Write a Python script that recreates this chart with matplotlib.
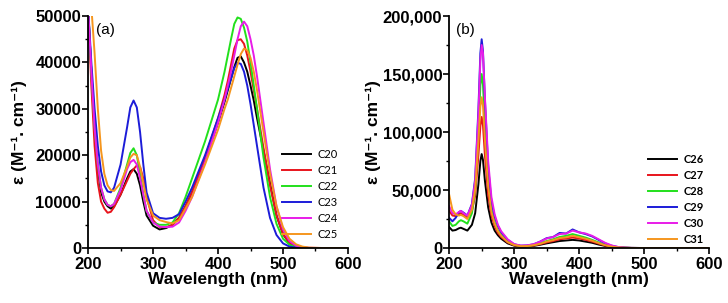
import matplotlib
matplotlib.use('Agg')
import matplotlib.pyplot as plt
from matplotlib.ticker import MultipleLocator, FuncFormatter

# ---- panel (a) data: wavelength (nm) vs epsilon (M-1 cm-1)
wl_a = [200, 205, 210, 215, 220, 225, 230, 235, 240, 250, 260, 265, 270, 275,
        280, 285, 290, 300, 310, 320, 330, 340, 350, 360, 380, 400, 410, 415,
        420, 425, 430, 435, 440, 445, 450, 455, 460, 470, 480, 490, 500, 510,
        520, 530, 540, 560, 600]
c20 = [52000, 38000, 26000, 17000, 12000, 10000, 9000, 8500, 9000, 11500, 15000,
       16500, 17000, 16000, 13500, 10000, 7000, 4800, 4000, 4300, 5000, 6500, 9000,
       12000, 19000, 27000, 31500, 34000, 36500, 39000, 41000, 41300, 40000, 38000,
       35000, 31800, 28000, 21000, 14000, 7000, 3000, 1000, 300, 80, 0, 0, 0]
c21 = [52000, 35000, 22000, 14000, 10000, 8500, 7600, 7800, 8800, 11500, 14500,
       16000, 17000, 17800, 17500, 15000, 11000, 6000, 4500, 4500, 5000, 6500, 9000,
       12000, 19500, 28000, 33000, 36000, 39500, 43000, 44800, 45000, 44000, 41500,
       38000, 34000, 30000, 21500, 13500, 7000, 3000, 1100, 400, 100, 0, 0, 0]
c22 = [52000, 38000, 26000, 18000, 13000, 10500, 9300, 9000, 9500, 13000, 18000,
       20500, 21500, 20000, 16000, 11500, 8000, 5500, 5000, 5000, 5500, 7500, 11000,
       15000, 23000, 32000, 38000, 41500, 45000, 48300, 49700, 49400, 47500, 44500,
       40000, 35000, 30000, 19500, 11000, 5200, 2000, 700, 200, 50, 0, 0, 0]
c23 = [52000, 40000, 30000, 22000, 16500, 13500, 12200, 12000, 13000, 18000, 26000,
       30300, 31800, 30300, 25000, 18000, 12000, 7500, 6500, 6300, 6500, 7300, 10000,
       13000, 20000, 28000, 32000, 34300, 36500, 38800, 39900, 39700, 38000, 35000,
       31000, 26500, 22000, 13000, 6500, 2800, 1000, 300, 80, 0, 0, 0, 0]
c24 = [52000, 38000, 26000, 18000, 13000, 10500, 9300, 9000, 9500, 12500, 17000,
       18500, 19000, 18000, 15000, 11500, 8000, 5500, 4600, 4500, 4600, 5500, 8000,
       11000, 18500, 27000, 32000, 35000, 38000, 41500, 45000, 47800, 48800, 47800,
       45000, 41500, 37000, 27000, 17000, 9000, 4000, 1500, 500, 150, 50, 0, 0]
c25 = [56000, 52000, 42000, 30000, 21000, 16000, 13500, 12500, 12300, 14000, 17500,
       19500, 20300, 20000, 17500, 14000, 10500, 7000, 6000, 5600, 5300, 6000, 8500,
       11000, 18000, 25500, 30000, 32000, 34500, 37000, 39500, 41800, 43000, 42600,
       41000, 38000, 34000, 25000, 16000, 9000, 4500, 2000, 800, 300, 100, 0, 0]

# ---- panel (b) data
wl_b = [200, 205, 210, 215, 218, 222, 228, 235, 240, 245, 248, 250, 252, 255, 260,
        265, 270, 275, 280, 290, 300, 310, 320, 330, 340, 350, 360, 370, 380, 390,
        400, 410, 420, 430, 440, 450, 460, 470, 480, 500, 600]
c26 = [18000, 15000, 15500, 17000, 17500, 16500, 15000, 20000, 30000, 55000, 75000,
       81000, 76000, 58000, 35000, 22000, 15000, 11000, 8000, 4000, 2000, 1200, 1300,
       1800, 2800, 4000, 5000, 6000, 6500, 7000, 6500, 5500, 4500, 3000, 1800, 900,
       400, 150, 50, 0, 0]
c27 = [32000, 28000, 27500, 29000, 30000, 28500, 26000, 32000, 45000, 80000, 105000,
       113000, 106000, 80000, 46000, 28000, 19000, 13000, 9500, 4800, 2400, 1500, 1600,
       2200, 3300, 4800, 6000, 7500, 8200, 9000, 8200, 7000, 5500, 3800, 2200, 1100,
       500, 200, 60, 0, 0]
c28 = [23000, 19000, 20000, 23000, 24000, 23000, 21000, 30000, 50000, 100000, 140000,
       150000, 141000, 105000, 58000, 33000, 22000, 15000, 11000, 5500, 2800, 1700, 1800,
       2500, 4000, 6000, 7500, 9500, 10500, 12000, 10500, 9000, 7000, 4800, 2800, 1400,
       600, 250, 80, 0, 0]
c29 = [26000, 23000, 26000, 31000, 32000, 30500, 28000, 38000, 60000, 120000, 168000,
       180000, 170000, 128000, 70000, 40000, 27000, 19000, 13500, 7000, 3200, 2000, 2200,
       3200, 5500, 8500, 9500, 13000, 12500, 16000, 13500, 12000, 10000, 7000, 4000, 2000,
       800, 300, 100, 0, 0]
c30 = [36000, 30000, 29000, 31000, 32000, 30000, 28000, 37000, 58000, 115000, 162000,
       175000, 168000, 130000, 75000, 44000, 29000, 20000, 14500, 7500, 3400, 2100, 2300,
       3300, 5500, 8200, 9500, 12000, 12500, 15000, 13500, 12500, 10500, 7500, 4500, 2200,
       900, 350, 100, 0, 0]
c31 = [46000, 33000, 29000, 28000, 28500, 27500, 25000, 33000, 50000, 92000, 122000,
       130000, 123000, 93000, 53000, 31000, 21000, 14500, 10500, 5200, 2600, 1600, 1700,
       2400, 3700, 5500, 6800, 8500, 9200, 10500, 9300, 8000, 6300, 4300, 2500, 1200,
       550, 200, 70, 0, 0]

labels_a = ['C20', 'C21', 'C22', 'C23', 'C24', 'C25']
labels_b = ['C26', 'C27', 'C28', 'C29', 'C30', 'C31']
colors = ['#000000', '#e8141c', '#22e01c', '#1c1cd8', '#e81ce8', '#f5961e']

plt.rcParams['font.family'] = ['Liberation Sans', 'DejaVu Sans']

fig = plt.figure(figsize=(7.28, 3.03), dpi=100)
ax1 = fig.add_axes([0.121, 0.1815, 0.357, 0.7655])
ax2 = fig.add_axes([0.617, 0.1815, 0.357, 0.7655])


def style_axis(ax, ymax, ystep, fmt, ypad):
    ax.set_xlim(200, 600)
    ax.set_ylim(0, ymax)
    ax.xaxis.set_major_locator(MultipleLocator(100))
    ax.xaxis.set_minor_locator(MultipleLocator(50))
    ax.yaxis.set_major_locator(MultipleLocator(ystep))
    ax.yaxis.set_minor_locator(MultipleLocator(ystep / 2))
    ax.yaxis.set_major_formatter(FuncFormatter(fmt))
    for s in ['top', 'right']:
        ax.spines[s].set_visible(False)
    for s in ['left', 'bottom']:
        ax.spines[s].set_linewidth(1.3)
    ax.tick_params(which='major', length=4, width=1.2, direction='out',
                   labelsize=12, pad=1)
    ax.tick_params(axis='x', which='major', pad=2.5)
    ax.tick_params(which='minor', length=2.5, width=1.0, direction='out')
    for lab in ax.get_xticklabels() + ax.get_yticklabels():
        lab.set_fontweight('bold')
    ax.set_xlabel('Wavelength (nm)', fontsize=12.5, fontweight='bold', labelpad=0)
    ax.set_ylabel('ε (M⁻¹. cm⁻¹)', fontsize=12.5, fontweight='bold',
                  labelpad=ypad)


for ys, lab, col in zip([c20, c21, c22, c23, c24, c25], labels_a, colors):
    ax1.plot(wl_a, ys, color=col, lw=1.4, label=lab)
for ys, lab, col in zip([c26, c27, c28, c29, c30, c31], labels_b, colors):
    ax2.plot(wl_b, ys, color=col, lw=1.4, label=lab)

style_axis(ax1, 50000, 10000, lambda v, p: '%d' % v, 6)
style_axis(ax2, 200000, 50000, lambda v, p: '{:,}'.format(int(v)), 1)

ax1.text(0.03, 0.97, '(a)', transform=ax1.transAxes, fontsize=11, va='top')
ax2.text(0.025, 0.97, '(b)', transform=ax2.transAxes, fontsize=11, va='top')

ax1.legend(loc='lower right', bbox_to_anchor=(1.0, -0.01), frameon=False,
           prop={'family': 'Lato', 'size': 8}, handlelength=2.6,
           labelspacing=0.45, handletextpad=0.6)
ax2.legend(loc='lower right', bbox_to_anchor=(1.02, -0.03), frameon=False,
           prop={'family': 'Lato', 'size': 8, 'weight': 'bold'}, handlelength=2.6,
           labelspacing=0.45, handletextpad=0.6)

plt.savefig('out.png', dpi=100)
